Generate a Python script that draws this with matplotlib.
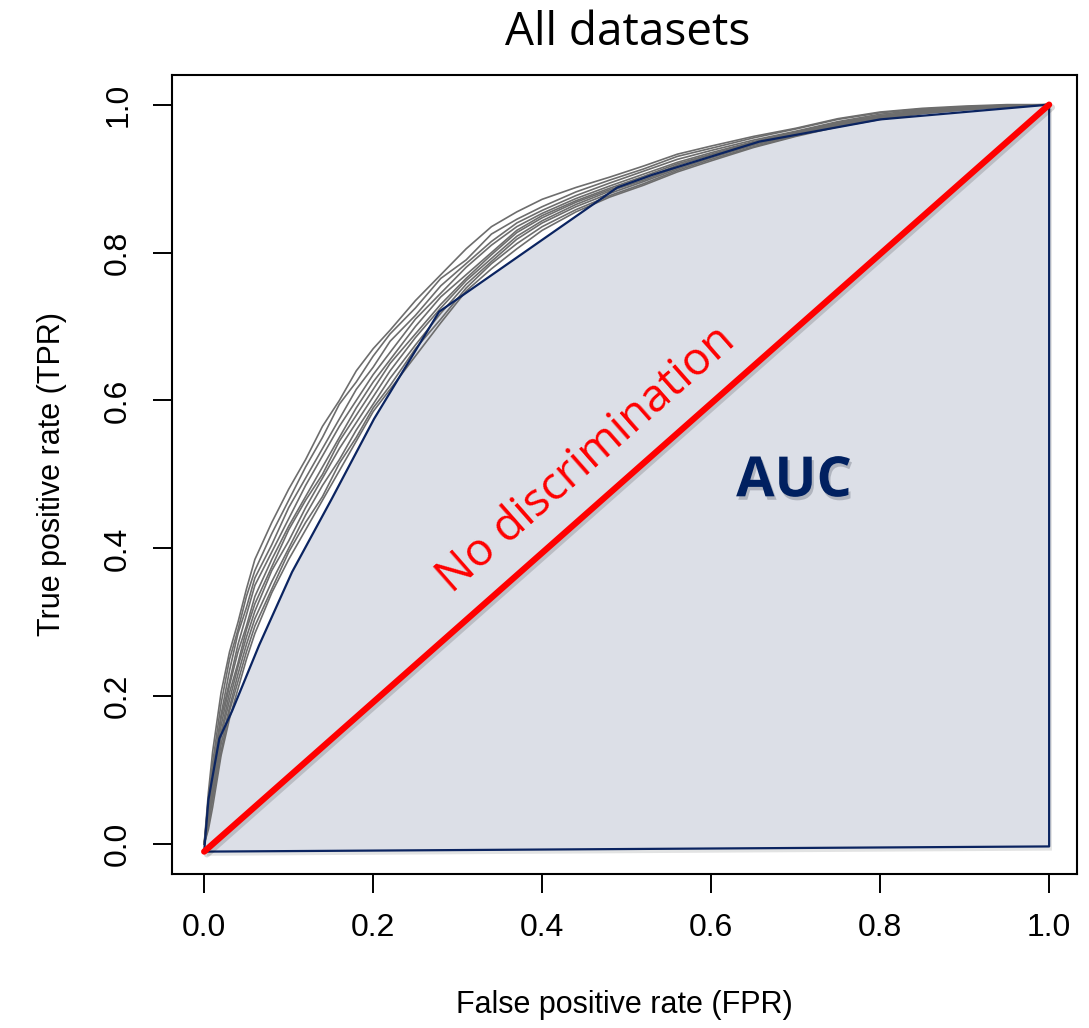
import matplotlib.pyplot as plt
import matplotlib.patheffects as pe

# ---------------------------------------------
# ROC data
# ---------------------------------------------
fpr_grid = [0, .005, .01, .02, .03, .04, .05, .06, .08, .10, .12, .14, .16, .18, .20,
            .22, .25, .28, .31, .34, .37, .40, .44, .48, .52, .56, .60, .65, .70, .75,
            .80, .85, .90, .95, 1.0]

# one TPR row per dataset (grey curves)
tpr_a = [0, .07, .125, .205, .26, .30, .345, .385, .435, .48, .52, .565, .60, .64, .67, .695, .735, .77,
         .805, .835, .855, .872, .888, .902, .917, .933, .944, .957, .968, .981, .99, .995, .998, 1, 1]
tpr_b = [0, .06, .11, .19, .25, .29, .335, .37, .42, .465, .51, .55, .595, .625, .66, .69, .725, .765,
         .79, .825, .845, .862, .882, .898, .913, .93, .941, .955, .967, .98, .989, .994, .997, .999, 1]
tpr_c = [0, .04, .10, .175, .235, .285, .32, .36, .405, .455, .495, .535, .575, .615, .645, .68, .715, .755,
         .785, .815, .84, .857, .877, .894, .91, .926, .938, .952, .964, .977, .987, .993, .997, .999, 1]
tpr_d = [0, .05, .095, .17, .22, .27, .31, .35, .395, .44, .485, .525, .565, .60, .635, .665, .71, .745,
         .78, .81, .835, .853, .873, .89, .906, .922, .935, .95, .963, .976, .985, .992, .996, .998, 1]
tpr_e = [0, .03, .085, .16, .215, .26, .295, .335, .385, .43, .47, .51, .55, .59, .625, .655, .70, .74,
         .77, .80, .83, .85, .87, .887, .903, .92, .933, .949, .962, .975, .985, .991, .995, .998, 1]
tpr_f = [0, .045, .08, .15, .205, .245, .29, .325, .375, .425, .465, .50, .545, .58, .615, .65, .69, .73,
         .765, .797, .827, .847, .868, .885, .90, .918, .932, .948, .961, .974, .984, .99, .995, .998, 1]
tpr_g = [0, .035, .07, .145, .195, .24, .28, .315, .37, .41, .455, .495, .535, .57, .605, .64, .685, .725,
         .762, .792, .822, .843, .865, .883, .898, .915, .93, .946, .96, .973, .983, .99, .994, .998, 1]
tpr_h = [0, .025, .065, .135, .185, .23, .27, .305, .355, .40, .445, .485, .52, .56, .595, .63, .675, .718,
         .757, .788, .818, .84, .862, .88, .896, .913, .928, .945, .959, .972, .982, .989, .994, .998, 1]
tpr_i = [0, .03, .06, .125, .18, .22, .26, .295, .345, .395, .435, .47, .515, .55, .59, .62, .67, .71,
         .752, .785, .812, .835, .858, .877, .893, .911, .926, .943, .958, .971, .981, .988, .993, .997, 1]
tpr_j = [0, .02, .05, .12, .17, .21, .25, .285, .34, .385, .425, .465, .505, .545, .585, .615, .66, .705,
         .748, .778, .805, .83, .855, .875, .891, .909, .924, .942, .957, .97, .98, .988, .993, .997, 1]
dataset_tprs = [tpr_a, tpr_b, tpr_c, tpr_d, tpr_e, tpr_f, tpr_g, tpr_h, tpr_i, tpr_j]

# averaged (convex) curve that bounds the AUC area
auc_fpr = [0, .005, .018, .033, .065, .104, .151, .201, .278, .489, .53, .657, .80, 1.0, 1.0, 0]
auc_tpr = [-.01, .06, .143, .18, .269, .368, .467, .575, .72, .888, .905, .95, .98, 1.0, -.003, -.01]

diag_fpr = [0, 1]
diag_tpr = [-.01, 1]

ticks = [0.0, 0.2, 0.4, 0.6, 0.8, 1.0]
tick_labels = ['0.0', '0.2', '0.4', '0.6', '0.8', '1.0']

# ---------------------------------------------
# Figure
# ---------------------------------------------
navy = '#0b2461'
fig = plt.figure(figsize=(10.89, 10.28), dpi=100)
ax = fig.add_axes([0.158, 0.150, 0.831, 0.777])

shadow = [pe.SimplePatchShadow(offset=(2, -3), alpha=0.15), pe.Normal()]

ax.fill(auc_fpr, auc_tpr, facecolor='#dcdfe7', edgecolor='none', zorder=1,
        path_effects=shadow)

for tpr in dataset_tprs:
    ax.plot(fpr_grid, tpr, color='#6d6d6d', lw=1.2, zorder=2)

ax.plot(auc_fpr, auc_tpr, color=navy, lw=1.6, zorder=3)

ax.plot(diag_fpr, diag_tpr, color='#ff0000', lw=4.5, solid_capstyle='round', zorder=4,
        path_effects=[pe.SimpleLineShadow(offset=(2, -2), alpha=0.15), pe.Normal()])

ax.text(0.452, 0.52, 'No discrimination', color='#ff0000', fontsize=33,
        family='Open Sans', rotation=41.3, rotation_mode='anchor',
        ha='center', va='center', zorder=5)

ax.text(0.698, 0.49, 'AUC', color='#002060', fontsize=40, fontweight='bold',
        family='Open Sans', ha='center', va='center', zorder=5,
        path_effects=[pe.withSimplePatchShadow(offset=(1.5, -2.5), alpha=0.2)])

ax.set_xlim(-0.038, 1.033)
ax.set_ylim(-0.04, 1.04)
ax.set_xticks(ticks)
ax.set_xticklabels(tick_labels, family='Liberation Sans', fontsize=23)
ax.set_yticks(ticks)
ax.set_yticklabels(tick_labels, family='Liberation Sans', fontsize=23,
                   rotation=90, va='center')
ax.tick_params(direction='out', length=14, width=1.4, pad=14)
for s in ax.spines.values():
    s.set_linewidth(1.5)

ax.set_xlabel('False positive rate (FPR)', family='Liberation Sans', fontsize=22, labelpad=34)
ax.set_ylabel('True positive rate (TPR)', family='Liberation Sans', fontsize=22, labelpad=26)

fig.text(0.576, 0.968, 'All datasets', family='Open Sans', fontsize=33,
         ha='center', va='center')

fig.savefig('out.png', dpi=100)
